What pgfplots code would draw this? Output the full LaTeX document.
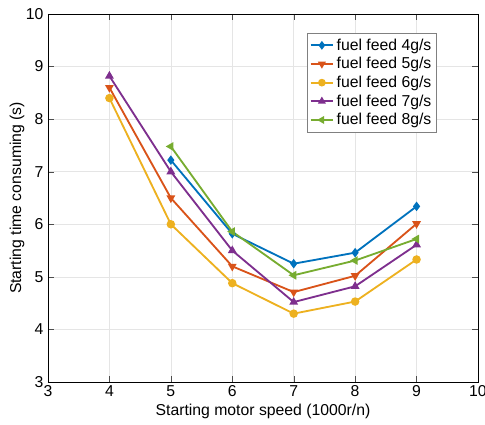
\documentclass[border=0pt]{standalone}
\usepackage{pgfplots}
\pgfplotsset{compat=1.18}
\usepackage{fontspec}
\setmainfont{Liberation Sans}
\definecolor{mblue}{RGB}{0,114,189}
\definecolor{morange}{RGB}{217,83,25}
\definecolor{myellow}{RGB}{237,177,32}
\definecolor{mpurple}{RGB}{126,47,142}
\definecolor{mgreen}{RGB}{119,172,48}
\begin{document}
\begin{tikzpicture}
\begin{axis}[
  scale only axis,
  width=11.5cm, height=9.842cm,
  xmin=3, xmax=10, ymin=3, ymax=10,
  xtick={3,...,10}, ytick={3,...,10},
  grid=major, grid style={gray!20},
  tick align=inside, tick style={black!70},
  xlabel={Starting motor speed (1000r/n)},
  ylabel={Starting time consuming (s)},
  /pgf/number format/assume math mode=true,
  ticklabel style={font=\large},
  xticklabel style={yshift=1pt, overlay},
  label style={font=\large},
  xlabel style={at={(rel axis cs:0.5,-0.08)}, anchor=center},
  ylabel style={at={(rel axis cs:-0.072,0.5)}, anchor=center},
  legend style={at={(0.602,0.948)}, anchor=north west, font=\large, draw=gray, cells={anchor=west}, row sep=0pt, inner sep=2pt},
  legend image post style={mark size=2.2pt},
  every axis plot/.append style={line width=1.4pt, mark size=2.5pt},
  after end axis/.code={\path (rel axis cs:-0.1116,-0.1168) rectangle (rel axis cs:1.0163,1.038);},
]
\addplot[mblue, mark=diamond*] coordinates {(5,7.22) (6,5.82) (7,5.25) (8,5.46) (9,6.34)};
\addplot[morange, mark=triangle*, mark options={rotate=180}] coordinates {(4,8.6) (5,6.5) (6,5.2) (7,4.71) (8,5.02) (9,6.01)};
\addplot[myellow, mark=*] coordinates {(4,8.4) (5,6.0) (6,4.88) (7,4.3) (8,4.53) (9,5.33)};
\addplot[mpurple, mark=triangle*] coordinates {(4,8.82) (5,7.0) (6,5.5) (7,4.52) (8,4.82) (9,5.61)};
\addplot[mgreen, mark=triangle*, mark options={rotate=90}] coordinates {(5,7.48) (6,5.86) (7,5.03) (8,5.31) (9,5.72)};
\legend{fuel feed 4g/s, fuel feed 5g/s, fuel feed 6g/s, fuel feed 7g/s, fuel feed 8g/s}
\end{axis}
\end{tikzpicture}
\end{document}
